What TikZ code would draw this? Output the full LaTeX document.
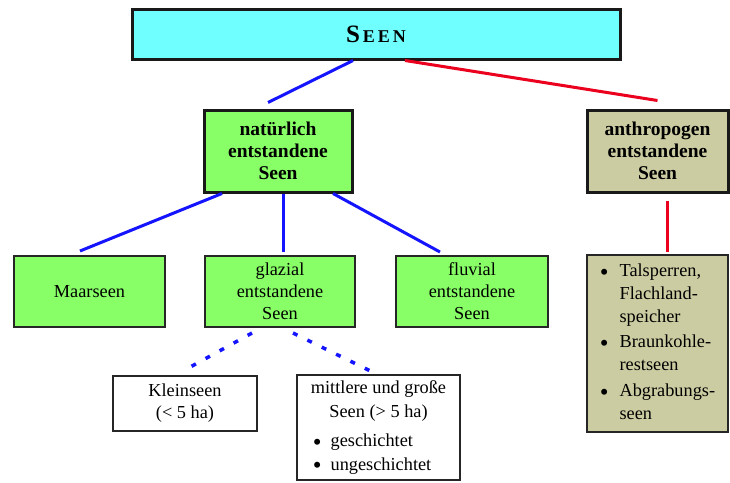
\documentclass[tikz,border=0pt]{standalone}
\usepackage{fontspec}
\setmainfont{Liberation Serif}
\usepackage{xcolor}
\usetikzlibrary{calc}

\definecolor{seencyan}{RGB}{112,255,255}
\definecolor{seengreen}{RGB}{136,255,102}
\definecolor{seenkhaki}{RGB}{204,204,162}
\definecolor{seenblue}{RGB}{20,20,255}
\definecolor{seenred}{RGB}{235,0,30}
\newcommand{\seenbullet}{\raisebox{-3.5pt}{\fontsize{25}{0}\selectfont\textbullet}}

\begin{document}
\begin{tikzpicture}[x=1pt, y=-1pt,
    topbox/.style={draw=black!90, line width=3pt, inner sep=0pt, align=center,
      font=\fontsize{19.5}{22}\selectfont\bfseries},
    subbox/.style={draw=black!85, line width=2pt, fill=seengreen, inner sep=0pt,
      align=center, font=\fontsize{18.3}{22}\selectfont},
    leafbox/.style={draw=black!85, line width=1.5pt, fill=white, inner sep=0pt,
      align=center, font=\fontsize{18.3}{23.5}\selectfont},
    blueline/.style={draw=seenblue, line width=3pt},
    redline/.style={draw=seenred, line width=3pt},
    dotline/.style={draw=seenblue, line width=3.5pt, dash pattern=on 5pt off 11pt}]
  \useasboundingbox (0,0) rectangle (730,482);

  % top level
  \node[topbox, fill=seencyan, minimum width=488pt, minimum height=50pt] (seen) at (376,34)
    {{\fontsize{25}{26}\selectfont S}{\fontsize{18}{26}\selectfont\hspace{3pt}E\hspace{3pt}E\hspace{3pt}N}};

  % second level
  \node[topbox, fill=seengreen, minimum width=148pt, minimum height=82pt] (nat) at (278,151)
    {natürlich\\entstandene\\Seen};
  \node[topbox, fill=seenkhaki, minimum width=141pt, minimum height=82pt] (anth) at (657.5,151)
    {anthropogen\\entstandene\\Seen};

  % third level
  \node[subbox, minimum width=151pt, minimum height=71pt] (maar) at (89.5,291.5) {Maarseen};
  \node[subbox, minimum width=150pt, minimum height=71pt] (glaz) at (280,291.5)
    {glazial\\entstandene\\Seen};
  \node[subbox, minimum width=152pt, minimum height=71pt] (fluv) at (472,291.5)
    {fluvial\\entstandene\\Seen};
  \node[leafbox, fill=seenkhaki, minimum width=141pt, minimum height=177pt] (anthlist) at (657.5,343.5)
    {\fontsize{18.3}{23}\selectfont
     \begin{tabular}{@{}l@{\hspace{11pt}}l@{}}
       \seenbullet & Talsperren,\\
                   & Flachland-\\
                   & speicher\\[2pt]
       \seenbullet & Braunkohle-\\
                   & restseen\\[3pt]
       \seenbullet & Abgrabungs-\\
                   & seen
     \end{tabular}};

  % glacial lakes
  \node[leafbox, minimum width=144pt, minimum height=55pt, font=\fontsize{18.3}{22}\selectfont] (klein) at (185,403.5)
    {Kleinseen\\(< 5 ha)};
  \node[leafbox, minimum width=163pt, minimum height=105pt] (mittl) at (378.5,427.5)
    {\begin{tabular}{@{}l@{\hspace{9pt}}l@{}}
       \multicolumn{2}{@{}c@{}}{mittlere und große}\\
       \multicolumn{2}{@{}c@{}}{Seen (> 5 ha)}\\[6pt]
       \hspace{2pt}\seenbullet & geschichtet\\
       \hspace{2pt}\seenbullet & ungeschichtet
     \end{tabular}};

  % connectors
  \draw[blueline] ($(seen.south)+(-23,0)$) -- ($(nat.north)+(-10,-6)$);
  \draw[redline] ($(seen.south)+(29,0)$) -- ($(anth.north)+(0,-8)$);
  \draw[blueline] ($(nat.south)+(-56,0)$) -- ($(maar.north)+(-9.5,-4)$);
  \draw[blueline] ($(nat.south)+(5,0)$) -- ($(glaz.north)+(3,-3)$);
  \draw[blueline] ($(nat.south)+(55,0)$) -- ($(fluv.north)+(-32,-3)$);
  \draw[redline] ($(anth.south)+(9.5,7)$) -- ($(anthlist.north)+(9.5,-2)$);
  \draw[dotline] ($(glaz.south)+(-28,5)$) -- ($(klein.north)+(3,-7)$);
  \draw[dotline] ($(glaz.south)+(13,5)$) -- ($(mittl.north)+(-5.5,-2)$);
\end{tikzpicture}
\end{document}
